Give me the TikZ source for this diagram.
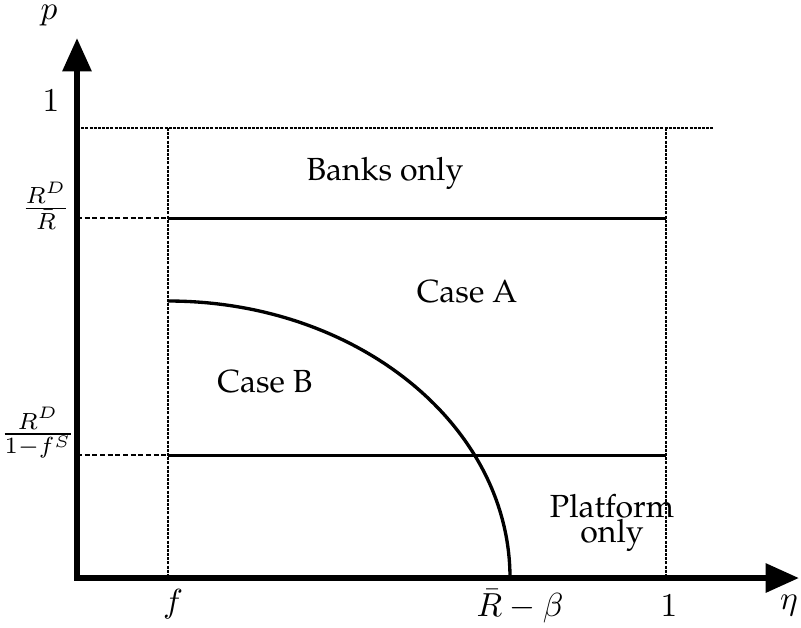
\documentclass[tikz,border=0pt]{standalone}
\usepackage[T1,TU]{fontenc}
\usetikzlibrary{arrows.meta}
\IfFileExists{t1qpl.fd}{%
  \newcommand\palfont{\fontencoding{T1}\fontfamily{qpl}\selectfont}%
}{\IfFileExists{t1ppl.fd}{%
  \newcommand\palfont{\fontencoding{T1}\fontfamily{ppl}\selectfont}%
}{\IfFileExists{texgyrepagella-regular.otf}{%
  \usepackage{fontspec}%
  \newfontfamily\palotf{texgyrepagella-regular.otf}%
  \newcommand\palfont{\palotf}%
}{%
  \newcommand\palfont{\rmfamily}%
}}}
\tikzset{
  axisline/.style={line width=1.8pt, line join=miter, {Triangle[length=10pt,width=8.4pt]}-{Triangle[length=10pt,width=8.4pt]}},
  solidline/.style={line width=0.9pt},
  dotline/.style={line width=0.8pt, dash pattern=on 0.9pt off 0.35pt},
  tickline/.style={line width=0.8pt, dash pattern=on 1.5pt off 0.8pt},
  curveline/.style={line width=1pt},
  regionlabel/.style={font=\palfont\fontsize{9.6}{11}\selectfont, anchor=base, inner sep=0pt},
  mathlabel/.style={font=\fontsize{10.2}{12}\selectfont, inner sep=0pt},
}
\begin{document}
\begin{tikzpicture}[x=0.3pt,y=-0.3pt]
\useasboundingbox (0,0) rectangle (801,627);
% coordinates
\coordinate (ytip) at (77,38);
\coordinate (xtip) at (799,578);
\coordinate (oneL) at (77,128);
\coordinate (oneR) at (713,128);
\coordinate (rdL) at (77,218);
\coordinate (rdM) at (168,218);
\coordinate (rdR) at (666,218);
\coordinate (rfL) at (77,455);
\coordinate (rfM) at (168,455);
\coordinate (rfR) at (666,455);
\coordinate (fT) at (168,128);
\coordinate (fB) at (168,578);
\coordinate (eT) at (666,128);
\coordinate (eB) at (666,578);
\coordinate (cS) at (168,301);
% grid lines
\draw[dotline] (oneL) -- (oneR);
\draw[dotline] (fT) -- (fB);
\draw[dotline] (eT) -- (eB);
\draw[tickline] (rdL) -- (rdM);
\draw[solidline] (rdM) -- (rdR);
\draw[tickline] (rfL) -- (rfM);
\draw[solidline] (rfM) -- (rfR);
% curve
\draw[curveline] (cS) arc[start angle=90, end angle=0, x radius=342, y radius=-277];
% axes
\draw[axisline] (ytip) |- (xtip);
% axis labels
\node[mathlabel, anchor=base] (plab) at (49,19) {$p$};
\node[mathlabel] (etalab) at (789,606) {$\eta$};
\node[mathlabel] (onep) at (51,101) {$1$};
\node[mathlabel] (rdlab) at (46,206) {$\frac{R^D}{\bar R}$};
\node[mathlabel] (rflab) at (38,433) {$\frac{R^D}{1-f^S}$};
\node[mathlabel] (flab) at (173,604) {$f$};
\node[mathlabel] (rblab) at (520,606) {$\bar R-\beta$};
\node[mathlabel] (onee) at (669,606) {$1$};
% region labels
\node[regionlabel] (banks) at (385,180) {Banks only};
\node[regionlabel] (caseA) at (467,302) {Case A};
\node[regionlabel] (caseB) at (265,392) {Case B};
\node[regionlabel] (platform) at (612,517) {Platform};
\node[regionlabel] (platonly) at (612,542) {only};
\end{tikzpicture}
\end{document}
